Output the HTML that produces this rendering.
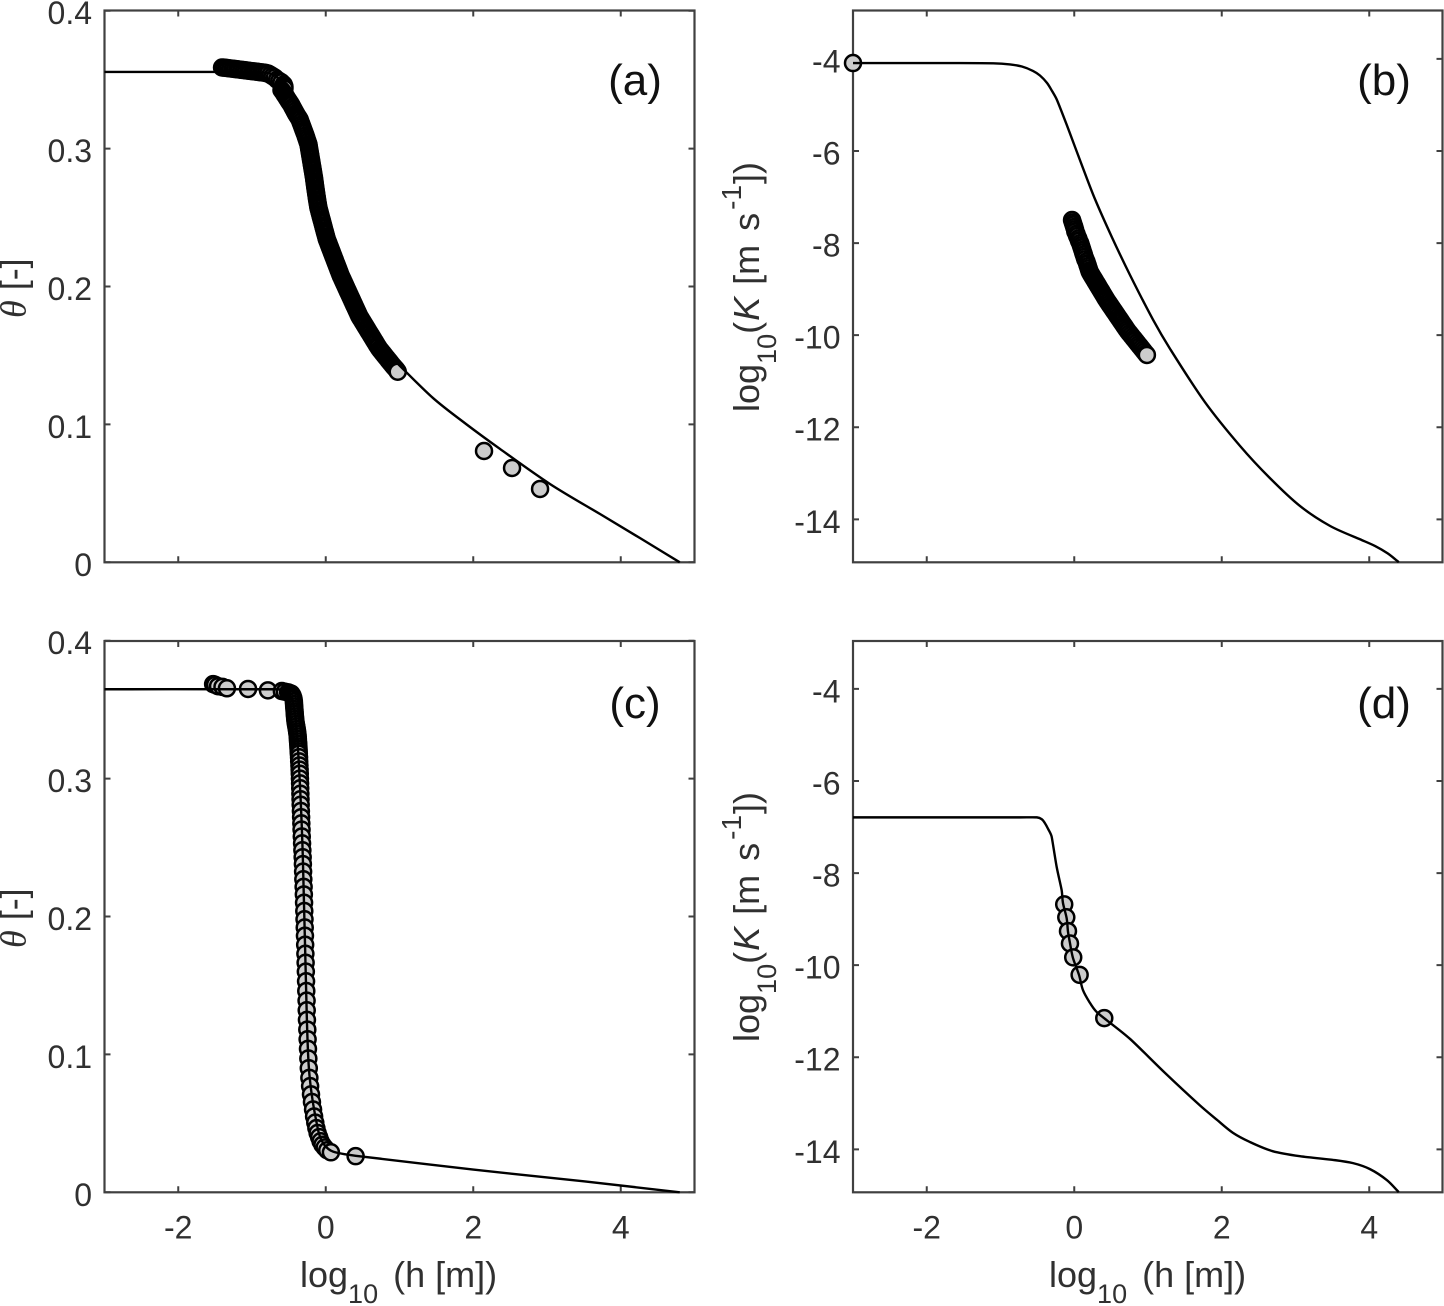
<!DOCTYPE html>
<html lang="en">
<head>
<meta charset="utf-8">
<title>Retention and conductivity curves</title>
<style>
html,body{margin:0;padding:0;background:#fff;}
svg{display:block;font-family:"Liberation Sans",Arial,sans-serif;}
.tick-label{font-size:32px;fill:#303030;}
.axis-title{font-size:36px;fill:#303030;}
.panel-label{font-size:44px;fill:#111;}
</style>
</head>
<body>
<svg id="figure" xmlns="http://www.w3.org/2000/svg" width="1444" height="1306" viewBox="0 0 1444 1306">
  <rect width="1444" height="1306" fill="#fff"/>
  <g id="plots"></g>

  <text class="panel-label" x="635" y="95" text-anchor="middle">(a)</text>
  <text class="panel-label" x="1384" y="95" text-anchor="middle">(b)</text>
  <text class="panel-label" x="635" y="718" text-anchor="middle">(c)</text>
  <text class="panel-label" x="1384" y="718" text-anchor="middle">(d)</text>

  <text class="axis-title" transform="translate(25.5,318) rotate(-90)"><tspan font-family="Liberation Serif" font-style="italic">θ</tspan> [-]</text>
  <text class="axis-title" transform="translate(25.5,948) rotate(-90)"><tspan font-family="Liberation Serif" font-style="italic">θ</tspan> [-]</text>

  <text class="axis-title" transform="translate(759,412) rotate(-90)">log<tspan font-size="27" dy="17">10</tspan><tspan dy="-17">(</tspan><tspan font-style="italic" dx="1">K</tspan><tspan> </tspan><tspan dx="2">[m</tspan><tspan> </tspan><tspan dx="4">s</tspan><tspan font-size="28" dx="3" dy="-18">-1</tspan><tspan dx="1" dy="18">])</tspan></text>
  <text class="axis-title" transform="translate(759,1042) rotate(-90)">log<tspan font-size="27" dy="17">10</tspan><tspan dy="-17">(</tspan><tspan font-style="italic" dx="1">K</tspan><tspan> </tspan><tspan dx="2">[m</tspan><tspan> </tspan><tspan dx="4">s</tspan><tspan font-size="28" dx="3" dy="-18">-1</tspan><tspan dx="1" dy="18">])</tspan></text>

  <text class="axis-title" x="300" y="1287">log<tspan font-size="27" dy="16">10</tspan><tspan dx="5" dy="-16"> (h [m])</tspan></text>
  <text class="axis-title" x="1049" y="1287">log<tspan font-size="27" dy="16">10</tspan><tspan dx="5" dy="-16"> (h [m])</tspan></text>
</svg>
<script>
// ---- tick values and labels ----
const xTicks = [-2, 0, 2, 4];
const xTickLabels = ['-2', '0', '2', '4'];
const thetaTicks = [0, 0.1, 0.2, 0.3, 0.4];
const thetaTickLabels = ['0', '0.1', '0.2', '0.3', '0.4'];
const kTicks = [-4, -6, -8, -10, -12, -14];
const kTickLabels = ['-4', '-6', '-8', '-10', '-12', '-14'];

// ---- panel (a): fitted line ----
const aLineH = [-3, -1.406, -0.864, -0.73, -0.62, -0.525, -0.39, -0.308, -0.24, -0.173, -0.105, 0.017, 0.194, 0.465, 0.736, 0.994, 1.455, 1.902, 2.363, 3.04, 3.719, 4.26, 4.8];
const aLineTheta = [0.3556, 0.3556, 0.3552, 0.354, 0.3497, 0.3432, 0.328, 0.3171, 0.304, 0.2823, 0.2576, 0.2337, 0.2069, 0.1779, 0.1568, 0.1431, 0.1191, 0.1003, 0.0822, 0.0568, 0.035, 0.0176, 0];
// ---- panel (a): observations ----
const aObsH = [-1.406,-1.38,-1.35,-1.32,-1.29,-1.26,-1.23,-1.2,-1.17,-1.14,-1.11,-1.08,-1.05,-1.02,-0.99,-0.96,-0.93,-0.9,-0.87,-0.84,-0.81,-0.78,-0.75,-0.72,-0.69,-0.66,-0.63,-0.6,-0.57,-0.56,-0.56,
-0.6,-0.585,-0.57,-0.555,-0.54,-0.525,-0.51,-0.495,-0.48,-0.465,-0.45,-0.435,-0.42,-0.405,-0.39,-0.375,-0.362,
-0.352,-0.341,-0.33,-0.319,-0.308,-0.297,-0.286,-0.275,-0.265,-0.255,-0.245,
-0.235,-0.23,-0.225,-0.22,-0.215,-0.21,-0.205,-0.2,-0.195,-0.19,-0.185,-0.18,-0.175,-0.17,
-0.165,-0.16,-0.156,-0.152,-0.148,-0.144,-0.14,-0.135,-0.131,-0.127,-0.122,-0.118,-0.113,-0.108,-0.103,
-0.098,-0.09,-0.082,-0.074,-0.066,-0.058,-0.05,-0.042,-0.034,-0.026,-0.018,-0.01,-0.002,0.006,0.014,
0.024,0.034,0.044,0.054,0.064,0.074,0.084,0.094,0.104,0.114,0.124,0.134,0.144,0.154,0.164,0.174,0.184,0.194,0.204,
0.216,0.228,0.24,0.252,0.264,0.276,0.288,0.3,0.312,0.324,0.336,0.348,0.36,0.372,0.384,0.396,0.408,0.42,0.432,0.444,0.456,
0.472,0.488,0.504,0.52,0.536,0.552,0.568,0.584,0.6,0.616,0.632,0.648,0.664,0.68,0.696,0.712,0.73,
0.748,0.766,0.784,0.802,0.82,0.838,0.856,0.874,0.892,0.91,0.93,0.95,0.968,
2.146,2.526,2.906,0.976];
const aObsTheta = [0.3588,0.3587,0.3585,0.3583,0.3581,0.3579,0.3577,0.3575,0.3573,0.3571,0.3569,0.3567,0.3565,0.3563,0.3561,0.3559,0.3557,0.3555,0.3553,0.3551,0.3548,0.3544,0.3535,0.3525,0.3515,0.35,0.349,0.348,0.3465,0.345,0.3435,
0.3425,0.3415,0.3402,0.339,0.3378,0.3365,0.3352,0.334,0.3328,0.3315,0.33,0.3285,0.327,0.3255,0.3242,0.3229,0.3218,
0.3208,0.3192,0.3176,0.316,0.3144,0.3128,0.3112,0.3096,0.308,0.3064,0.3048,
0.3032,0.3016,0.3,0.2984,0.2968,0.2952,0.2936,0.292,0.2904,0.2888,0.2872,0.2856,0.284,0.2824,
0.2808,0.2792,0.2776,0.276,0.2744,0.2728,0.2712,0.2696,0.268,0.2664,0.2648,0.2632,0.2616,0.26,0.2584,
0.2568,0.2552,0.2536,0.252,0.2504,0.2488,0.2472,0.2456,0.244,0.2424,0.2408,0.2392,0.2376,0.236,0.2344,
0.233,0.2316,0.2302,0.2288,0.2274,0.226,0.2246,0.2232,0.2218,0.2204,0.219,0.2176,0.2162,0.2148,0.2134,0.212,0.2106,0.2092,0.2078,
0.2064,0.205,0.2036,0.2022,0.2008,0.1994,0.198,0.1966,0.1952,0.1938,0.1924,0.191,0.1896,0.1882,0.1868,0.1854,0.184,0.1826,0.1812,0.1798,0.1784,
0.177,0.1756,0.1742,0.1728,0.1714,0.17,0.1686,0.1672,0.1658,0.1644,0.163,0.1616,0.1602,0.1588,0.1574,0.156,0.1546,
0.1534,0.1522,0.151,0.1498,0.1486,0.1474,0.1462,0.145,0.1438,0.1426,0.1414,0.1402,0.139,
0.0807,0.0684,0.0532,0.1382];

// ---- panel (b): fitted line ----
const bLineH = [-3, -1.55, -1.1, -0.87, -0.71, -0.56, -0.465, -0.37, -0.3, -0.235, -0.1, 0.01, 0.118, 0.28, 0.51, 0.755, 1.07, 1.3, 1.77, 2.25, 2.65, 3.06, 3.47, 3.87, 4.08, 4.25, 4.4];
const bLineK = [-4.09, -4.09, -4.095, -4.12, -4.165, -4.26, -4.36, -4.52, -4.7, -4.89, -5.44, -5.91, -6.37, -7.04, -7.87, -8.69, -9.67, -10.3, -11.45, -12.41, -13.1, -13.71, -14.145, -14.43, -14.58, -14.74, -14.93];
// ---- panel (b): observations ----
const bObsH = [-3,-0.03,-0.02,-0.01,0,0.01,0.015,0.03,0.04,0.055,0.065,0.08,0.09,0.1,0.11,0.12,0.13,0.14,0.15,0.165,0.175,0.185,0.195,0.205,0.215,
0.23,0.245,0.26,0.275,0.29,0.305,0.32,0.335,0.35,0.365,0.38,0.395,0.41,0.425,0.44,
0.457,0.474,0.491,0.508,0.525,0.542,0.559,0.576,0.593,0.61,0.627,0.644,0.661,0.678,0.695,0.712,
0.73,0.75,0.77,0.79,0.81,0.83,0.85,0.87,0.89,0.91,0.93,0.95,0.97,0.985];
const bObsK = [-4.09,-7.5,-7.55,-7.6,-7.65,-7.7,-7.75,-7.8,-7.85,-7.9,-7.95,-8,-8.05,-8.1,-8.15,-8.2,-8.25,-8.3,-8.35,-8.4,-8.45,-8.5,-8.55,-8.6,-8.64,
-8.68,-8.72,-8.76,-8.8,-8.84,-8.88,-8.92,-8.96,-9,-9.04,-9.08,-9.12,-9.16,-9.2,-9.24,
-9.28,-9.32,-9.36,-9.4,-9.44,-9.48,-9.52,-9.56,-9.6,-9.64,-9.68,-9.72,-9.76,-9.8,-9.84,-9.88,
-9.92,-9.96,-10,-10.04,-10.08,-10.12,-10.16,-10.2,-10.24,-10.28,-10.32,-10.36,-10.4,-10.43];

// ---- panel (c): fitted line ----
const cLineH = [-3, -0.7, -0.56, -0.49, -0.44, -0.4, -0.345, -0.31, -0.257, -0.23, -0.18, -0.095, -0.02, 0.1, 0.405, 2.0, 3.5, 4.8];
const cLineTheta = [0.3648, 0.3648, 0.3642, 0.361, 0.355, 0.34, 0.29, 0.2414, 0.1274, 0.0911, 0.0672, 0.0432, 0.0345, 0.0295, 0.0265, 0.0165, 0.008, 0];
// ---- panel (c): observations ----
const cObsH = [-1.527,-1.5,-1.46,-1.4,-1.34,-1.054,-0.784,-0.595,-0.554,-0.51,-0.486,
-0.465,-0.452,-0.442,-0.436,-0.432,-0.43,-0.428,-0.425,-0.422,-0.42,-0.417,-0.414,-0.41,-0.405,-0.399,-0.393,-0.388,-0.384,-0.38,-0.378,-0.376,-0.373,-0.371,-0.369,-0.367,-0.365,
-0.362,-0.36,-0.357,-0.354,-0.352,-0.35,-0.348,-0.346,-0.344,-0.342,-0.34,
-0.337,-0.334,-0.331,-0.328,-0.325,-0.321,-0.317,-0.313,-0.31,-0.307,-0.304,-0.3,-0.297,-0.294,-0.291,-0.288,-0.285,-0.282,-0.279,-0.276,-0.273,-0.27,-0.267,-0.264,-0.26,-0.258,-0.255,-0.25,-0.246,-0.241,-0.236,-0.23,-0.222,-0.212,-0.2,-0.187,-0.172,-0.158,-0.142,-0.127,-0.11,-0.09,-0.07,-0.045,-0.015,0.02,0.07,0.405];
const cObsTheta = [0.3685,0.368,0.367,0.3665,0.3655,0.365,0.364,0.3635,0.363,0.3625,0.362,
0.3615,0.3603,0.359,0.3575,0.3558,0.354,0.3522,0.3504,0.3486,0.3468,0.345,0.3432,0.3414,0.3396,0.3378,0.336,0.3342,0.3324,0.3306,0.3288,0.327,0.3252,0.3234,0.3216,0.3198,0.318,
0.3155,0.3125,0.3095,0.3065,0.3035,0.3,0.2965,0.293,0.289,0.285,0.281,
0.2765,0.272,0.2675,0.263,0.258,0.253,0.248,0.243,0.238,0.2325,0.227,0.2215,0.216,0.21,0.204,0.198,0.192,0.186,0.1795,0.173,0.1665,0.16,0.153,0.146,0.139,0.132,0.125,0.118,0.111,0.104,0.097,0.09,0.083,0.077,0.071,0.0655,0.06,0.055,0.0505,0.0465,0.043,0.04,0.037,0.0345,0.0325,0.0305,0.029,0.0262];

// ---- panel (d): fitted line ----
const dLineH = [-3, -0.736, -0.506, -0.44, -0.4, -0.355, -0.306, -0.239, -0.171, -0.153, -0.103, -0.085, -0.058, -0.018, 0.064, 0.118, 0.213, 0.294, 0.403, 0.755, 1.23, 1.7, 1.935, 2.15, 2.38, 2.69, 3.06, 3.51, 3.78, 4.01, 4.24, 4.4];
const dLineK = [-6.79, -6.79, -6.79, -6.83, -6.91, -7.04, -7.21, -7.86, -8.37, -8.65, -8.98, -9.27, -9.52, -9.84, -10.21, -10.54, -10.82, -11, -11.15, -11.6, -12.34, -13.04, -13.36, -13.64, -13.84, -14.04, -14.15, -14.23, -14.3, -14.43, -14.67, -14.93];
// ---- panel (d): observations ----
const dObsH = [-0.136, -0.108, -0.085, -0.058, -0.014, 0.073, 0.407];
const dObsK = [-8.68, -8.96, -9.26, -9.53, -9.83, -10.21, -11.15];

const SVGNS = 'http://www.w3.org/2000/svg';
const plots = document.getElementById('plots');

// axis functions
function xScale(left) { return function (v) { return left + (v + 3) * 73.75; }; }
function thetaScale(bottom) { return function (v) { return bottom - v * 1379; }; }
function kScale(yAtMinus6) { return function (v) { return yAtMinus6 + (-6 - v) * 46.04; }; }

// smooth path through mapped data points; control handles are limited by the shorter neighbouring segment
function smoothPath(xs, ys) {
  const n = xs.length;
  const tx = [], ty = [];
  function dist(a, b) { return Math.hypot(xs[a] - xs[b], ys[a] - ys[b]); }
  for (let i = 0; i < n; i++) {
    const p = Math.max(0, i - 1), q = Math.min(n - 1, i + 1);
    const len = Math.hypot(xs[q] - xs[p], ys[q] - ys[p]) || 1;
    tx.push((xs[q] - xs[p]) / len);
    ty.push((ys[q] - ys[p]) / len);
  }
  let d = 'M' + xs[0].toFixed(2) + ' ' + ys[0].toFixed(2);
  for (let i = 0; i < n - 1; i++) {
    const prev = i > 0 ? dist(i - 1, i) : dist(i, i + 1);
    const cur = dist(i, i + 1);
    const next = i < n - 2 ? dist(i + 1, i + 2) : cur;
    const h1 = Math.min(prev, cur) / 3, h2 = Math.min(cur, next) / 3;
    d += 'C' + (xs[i] + tx[i] * h1).toFixed(2) + ' ' + (ys[i] + ty[i] * h1).toFixed(2) + ' ' +
         (xs[i + 1] - tx[i + 1] * h2).toFixed(2) + ' ' + (ys[i + 1] - ty[i + 1] * h2).toFixed(2) + ' ' +
         xs[i + 1].toFixed(2) + ' ' + ys[i + 1].toFixed(2);
  }
  return d;
}

function drawPanel(id, box, x, y, yTicks, yLabels, showXLabels, lineX, lineY, obsX, obsY) {
  const g = document.createElementNS(SVGNS, 'g');
  
  
  plots.appendChild(g);

  const frame = document.createElementNS(SVGNS, 'rect');
  
  
  frame.setAttribute('x', box.left);
  frame.setAttribute('y', box.top);
  frame.setAttribute('width', box.right - box.left);
  frame.setAttribute('height', box.bottom - box.top);
  frame.setAttribute('fill', 'none');
  frame.setAttribute('stroke', '#404040');
  frame.setAttribute('stroke-width', '2.2');
  g.appendChild(frame);

  const tickPath = [];
  xTicks.forEach(function (t, i) {
    const px = x(t);
    tickPath.push('M' + px + ' ' + box.bottom + 'v-6M' + px + ' ' + box.top + 'v6');
    if (showXLabels) {
      const label = document.createElementNS(SVGNS, 'text');
      
      
      label.setAttribute('class', 'tick-label');
      label.setAttribute('x', px);
      label.setAttribute('y', box.bottom + 46);
      label.setAttribute('text-anchor', 'middle');
      label.textContent = xTickLabels[i];
      g.appendChild(label);
    }
  });
  yTicks.forEach(function (t, i) {
    const py = y(t);
    tickPath.push('M' + box.left + ' ' + py + 'h6M' + box.right + ' ' + py + 'h-6');
    const label = document.createElementNS(SVGNS, 'text');
    
    
    label.setAttribute('class', 'tick-label');
    label.setAttribute('x', box.left - 12.5);
    label.setAttribute('y', py + 13.5);
    label.setAttribute('text-anchor', 'end');
    label.textContent = yLabels[i];
    g.appendChild(label);
  });
  const ticks = document.createElementNS(SVGNS, 'path');
  
  
  ticks.setAttribute('d', tickPath.join(''));
  ticks.setAttribute('stroke', '#404040');
  ticks.setAttribute('stroke-width', '2');
  ticks.setAttribute('fill', 'none');
  g.appendChild(ticks);

  obsX.forEach(function (h, i) {
    const dot = document.createElementNS(SVGNS, 'circle');
    
    
    dot.setAttribute('cx', x(h).toFixed(2));
    dot.setAttribute('cy', y(obsY[i]).toFixed(2));
    dot.setAttribute('r', '8');
    dot.setAttribute('fill', '#cccccc');
    dot.setAttribute('stroke', '#000');
    dot.setAttribute('stroke-width', '2.5');
    g.appendChild(dot);
  });

  const line = document.createElementNS(SVGNS, 'path');
  
  
  line.setAttribute('d', smoothPath(lineX.map(x), lineY.map(y)));
  line.setAttribute('fill', 'none');
  line.setAttribute('stroke', '#000');
  line.setAttribute('stroke-width', '2.4');
  line.setAttribute('stroke-linejoin', 'round');
  g.appendChild(line);
}

drawPanel('a', {left: 104.5, right: 694.5, top: 10.5, bottom: 562.3}, xScale(104.5), thetaScale(562.3), thetaTicks, thetaTickLabels, false, aLineH, aLineTheta, aObsH, aObsTheta);
drawPanel('b', {left: 853, right: 1442.5, top: 10.5, bottom: 562.3}, xScale(853), kScale(151), kTicks, kTickLabels, false, bLineH, bLineK, bObsH, bObsK);
drawPanel('c', {left: 104.5, right: 694.5, top: 641, bottom: 1192.3}, xScale(104.5), thetaScale(1192.3), thetaTicks, thetaTickLabels, true, cLineH, cLineTheta, cObsH, cObsTheta);
drawPanel('d', {left: 853, right: 1442.5, top: 641, bottom: 1192.3}, xScale(853), kScale(781), kTicks, kTickLabels, true, dLineH, dLineK, dObsH, dObsK);
</script>
</body>
</html>
